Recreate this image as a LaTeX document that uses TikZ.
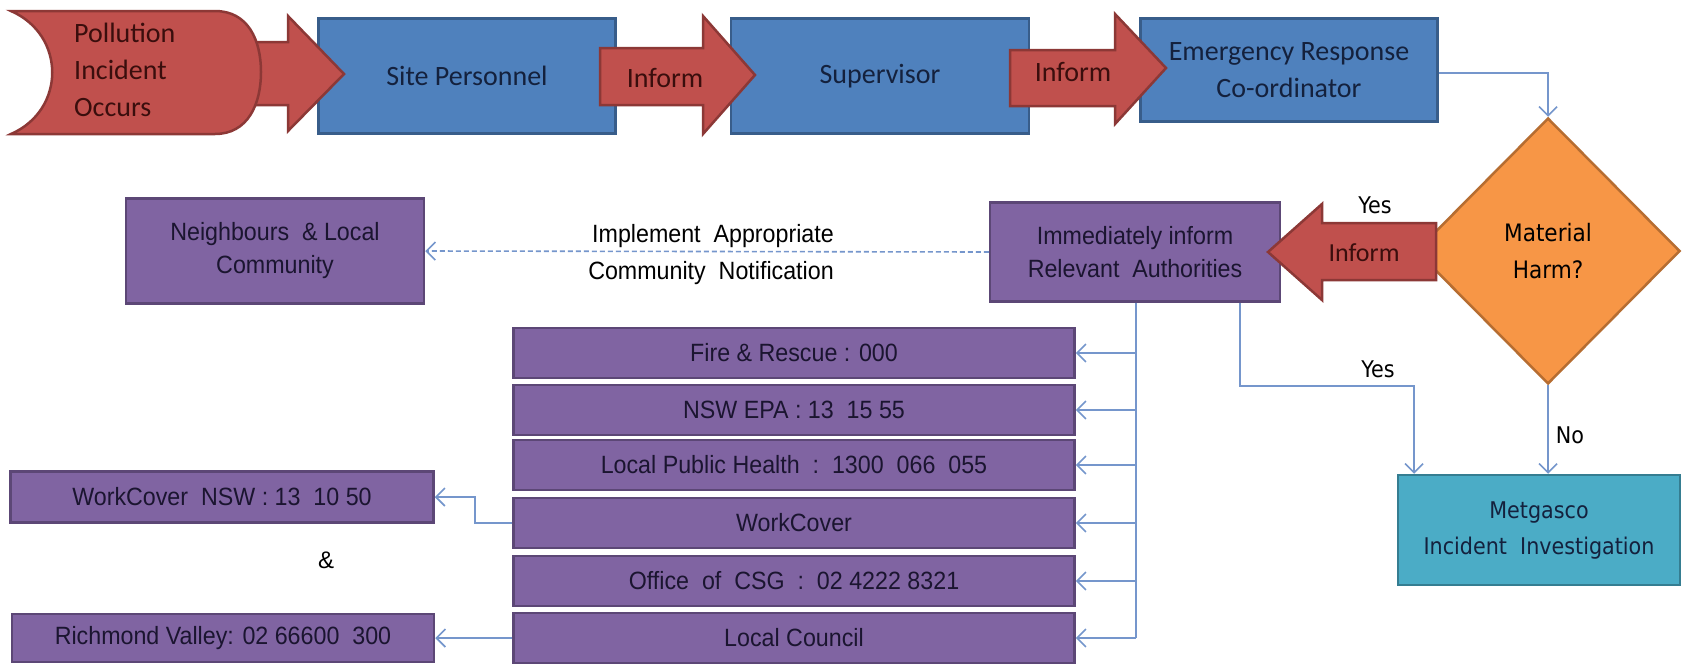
\documentclass[tikz,border=0pt]{standalone}
\usepackage{fontspec}
\setmainfont{Carlito}
\newfontfamily\narrowf{Liberation Sans}[FakeStretch=0.93]
\newfontfamily\tahf{DejaVu Sans}[FakeStretch=0.9]
\usetikzlibrary{arrows.meta,shapes.geometric}
\definecolor{redf}{HTML}{C0504D}
\definecolor{redd}{HTML}{8C3836}
\definecolor{bluef}{HTML}{4F81BD}
\definecolor{blued}{HTML}{385D8A}
\definecolor{purf}{HTML}{8064A2}
\definecolor{purd}{HTML}{5C4776}
\definecolor{oraf}{HTML}{F79646}
\definecolor{orad}{HTML}{B66D31}
\definecolor{teaf}{HTML}{4BACC6}
\definecolor{tead}{HTML}{357D91}
\definecolor{conn}{HTML}{7596CC}
\definecolor{navytxt}{HTML}{14213D}
\definecolor{redtxt}{HTML}{3A0E0D}
\definecolor{purtxt}{HTML}{1B1530}
\tikzset{
  bluebox/.style={draw=blued,fill=bluef,line width=2.5pt,inner sep=0pt,align=center,
    text=navytxt,font=\fontsize{28}{37}\selectfont},
  purbox/.style={draw=purd,fill=purf,line width=2.5pt,inner sep=0pt,align=center,
    text=purtxt,font=\narrowf\fontsize{25}{33}\selectfont},
  listbox/.style={purbox,minimum width=561,minimum height=50},
  blockarrow/.style={draw=redd,fill=redf,line width=2.5pt,line join=miter},
  conline/.style={draw=conn,line width=1.6pt,-{Straight Barb[length=9pt,width=18pt,line width=1.6pt]}},
  lbl/.style={inner sep=0pt,text=black,font=\tahf\fontsize{23}{28}\selectfont},
  arrtxt/.style={inner sep=0pt,text=redtxt,font=\fontsize{28}{32}\selectfont},
}
\begin{document}
\begin{tikzpicture}[x=1pt,y=-1pt]
\useasboundingbox[fill=white] (0,0) rectangle (1683,665);
% top boxes (drawn first, arrows overlap them)
\node[bluebox,minimum width=297,minimum height=115] (site) at (467,76) {Site Personnel};
\node[bluebox,minimum width=298,minimum height=115] (sup) at (880,76) {Supervisor};
\node[bluebox,minimum width=297,minimum height=103] (erc) at (1289,70) {Emergency Response\\Co-ordinator};
% block arrow from pollution to site personnel
\path[blockarrow] (230,42) -- (288,42) -- (288,16) -- (344,74) -- (288,131) -- (288,105) -- (230,105) -- cycle;
% pollution shape
\path[blockarrow] (11,11) -- (215,11) .. controls (248,11) and (261,40) .. (261,72)
  .. controls (261,104) and (248,134) .. (215,134) -- (11,134)
  .. controls (66,110) and (66,35) .. (11,11) -- cycle;
\node[inner sep=0pt,anchor=west,text=redtxt,font=\fontsize{28}{37}\selectfont,align=left] (poll) at (74,70) {Pollution\\Incident\\Occurs};
% inform arrows
\path[blockarrow] (600,48) -- (703,48) -- (703,16) -- (755,75) -- (703,134) -- (703,105) -- (600,105) -- cycle;
\node[arrtxt] (inf1) at (665,78) {Inform};
\path[blockarrow] (1010,50) -- (1115,50) -- (1115,14) -- (1166,68) -- (1115,124) -- (1115,106) -- (1010,106) -- cycle;
\node[arrtxt] (inf2) at (1073,72) {Inform};
% diamond
\node[diamond,draw=orad,fill=oraf,line width=2.5pt,minimum width=264,minimum height=266,inner sep=0pt,
  align=center,text=black,font=\tahf\fontsize{24}{37}\selectfont] (harm) at (1548,251) {Material\\Harm?};
\draw[conline] (erc.east |- 0,73) -| (harm.north);
% IR box
\node[purbox,minimum width=290,minimum height=99] (ir) at (1135,252) {Immediately inform\\Relevant\ \ Authorities};
% left inform arrow
\path[blockarrow] (1436,223) -- (1322,223) -- (1322,204) -- (1268,252) -- (1322,300) -- (1322,280) -- (1436,280) -- cycle;
\node[arrtxt,font=\fontsize{26}{30}\selectfont] (inf3) at (1364,253) {Inform};
\node[lbl] (yes1) at (1375,205) {Yes};
% neighbours
\node[purbox,minimum width=298,minimum height=105] (nb) at (275,251) {Neighbours \ \& Local\\Community};
\draw[conline,dashed,dash pattern=on 5pt off 3pt] (ir.west) -- (nb.east);
\node[inner sep=0pt,text=black,font=\narrowf\fontsize{25}{30}\selectfont] (impl1) at (713,236) {Implement\ \ Appropriate};
\node[inner sep=0pt,text=black,font=\narrowf\fontsize{25}{30}\selectfont] (impl2) at (711,273) {Community\ \ Notification};
% list
\node[listbox] (fire) at (794,353) {Fire \& Rescue : 000};
\node[listbox] (epa) at (794,410) {NSW EPA : 13\ \ 15 55};
\node[listbox] (lph) at (794,465) {Local Public Health\ \ :\ \ 1300\ \ 066\ \ 055};
\node[listbox] (wc) at (794,523) {WorkCover};
\node[listbox] (csg) at (794,581) {Office\ \ of\ \ CSG\ \ :\ \ 02 4222 8321};
\node[listbox] (lc) at (794,638) {Local Council};
\coordinate (bus) at (1136,304);
\draw[conn,line width=1.6pt] (ir.south -| bus) -- (bus |- lc.east);
\foreach \n in {fire,epa,lph,wc,csg,lc} {
  \draw[conline] (bus |- \n.east) -- (\n.east);
}
% metgasco
\node[draw=tead,fill=teaf,line width=2.5pt,minimum width=282,minimum height=110,inner sep=0pt,align=center,
  text=navytxt,font=\tahf\fontsize{23}{36}\selectfont] (met) at (1539,530) {Metgasco\\Incident\ \ Investigation};
\coordinate (yesturn) at (1240,386);
\draw[conline] (ir.south -| yesturn) -- (yesturn) -| (1414,0 |- met.north);
\node[lbl] (yes2) at (1378,369) {Yes};
\draw[conline] (harm.south) -- (met.north -| harm.south);
\node[lbl] (no) at (1570,435) {No};
% left boxes
\node[purbox,minimum width=423,minimum height=51] (wcn) at (222,497) {WorkCover\ \ NSW : 13\ \ 10 50};
\node[purbox,minimum width=422,minimum height=48] (rv) at (223,638) {Richmond Valley: 02 66600\ \ 300};
\coordinate (wcturn) at (475,523);
\draw[conline] (wc.west) -- (wcturn) |- (wcn.east);
\draw[conline] (lc.west) -- (rv.east);
\node[inner sep=0pt,text=black,font=\fontspec{Liberation Sans}\fontsize{24}{28}\selectfont] (amp) at (326,560) {\&};
\end{tikzpicture}
\end{document}
